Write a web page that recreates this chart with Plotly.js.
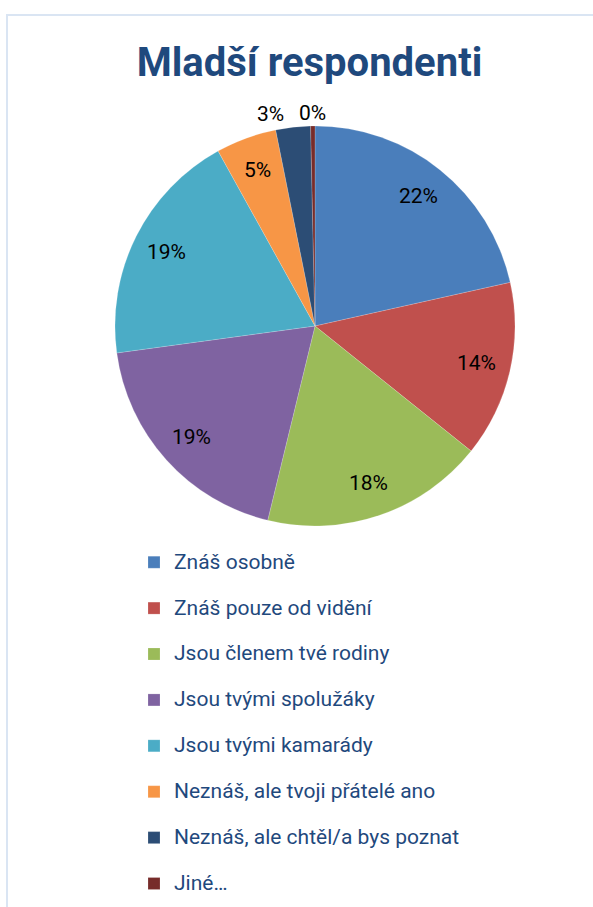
<!DOCTYPE html>
<html>
<head>
<meta charset="utf-8">
<script src="https://cdn.plot.ly/plotly-3.0.1.min.js"></script>
<style>
  html, body { margin: 0; padding: 0; background: #ffffff; overflow: hidden; }
  #frame { position: absolute; left: 0; top: 0; width: 593px; height: 907px; }
  #border { position: absolute; left: 6px; top: 14px; width: 700px; height: 1000px;
            border-top: 2px solid #dae5f3; border-left: 2px solid #dae5f3; pointer-events: none; }
  #chart { position: absolute; left: 0; top: 0; width: 593px; height: 907px; }
</style>
</head>
<body>
<div id="frame">
  <div id="chart"></div>
  <div id="border"></div>
</div>
<script>
const title = "Mladší respondenti";
const categories = [
  "Znáš osobně",
  "Znáš pouze od vidění",
  "Jsou členem tvé rodiny",
  "Jsou tvými spolužáky",
  "Jsou tvými kamarády",
  "Neznáš, ale tvoji přátelé ano",
  "Neznáš, ale chtěl/a bys poznat",
  "Jiné…"
];
const shares = [21.5, 14.25, 18.05, 19.05, 19.1, 4.9, 2.8, 0.35];
const colors = ["#4a7ebb", "#c0504d", "#9bbb59", "#7f63a1", "#4bacc6", "#f79646", "#2c4d75", "#772c2a"];
const labelPlacement = ["inside", "inside", "inside", "inside", "inside", "inside", "outside", "outside"];

const W = 593, H = 907;
const cx = 315, cy = 326, R = 200;
const FONT = "Roboto, 'Open Sans', sans-serif";

// percentage labels placed along each slice's bisector (derived from the data)
const total = shares.reduce((a, b) => a + b, 0);
const annotations = [];
let cum = 0;
shares.forEach((v, i) => {
  const mid = (cum + v / 2) / total;
  cum += v;
  const ang = mid * 2 * Math.PI;
  const outside = labelPlacement[i] === "outside";
  const r = outside ? R + 13 : 0.83 * R;
  const s = Math.sin(ang), c = Math.cos(ang);
  const px = cx + r * s, py = cy - r * c;
  let xanchor = "center", xshift = 0;
  if (outside) {
    if (s < -0.05) { xanchor = "right"; xshift = -6; }
    else if (s > 0.05) { xanchor = "left"; xshift = 6; }
  }
  annotations.push({
    xref: "paper", yref: "paper",
    x: px / W, y: 1 - py / H,
    xanchor: xanchor, yanchor: "middle", xshift: xshift,
    text: Math.round(v / total * 100) + "%",
    showarrow: false,
    font: { family: FONT, size: 21, color: "#000000" }
  });
});

const trace = {
  type: "pie",
  labels: categories.map(c => "<span style=\"font-size:21px\">" + c + "</span><br>\u00a0"),
  values: shares,
  sort: false,
  direction: "clockwise",
  rotation: 0,
  marker: { colors: colors, line: { color: "rgba(255,255,255,0.35)", width: 0.5 } },
  textinfo: "none",
  domain: { x: [(cx - R) / W, (cx + R) / W], y: [1 - (cy + R) / H, 1 - (cy - R) / H] },
  hoverinfo: "percent",
  showlegend: true
};

const layout = {
  width: W, height: H,
  margin: { l: 0, r: 0, t: 0, b: 0, autoexpand: false },
  paper_bgcolor: "#ffffff",
  title: {
    text: "<b>" + title + "</b>",
    x: 309.5 / W, xanchor: "center",
    y: 1 - 62 / H, yanchor: "middle",
    font: { family: FONT, size: 40, color: "#1f497d" }
  },
  annotations: annotations,
  showlegend: true,
  legend: {
    orientation: "v",
    x: 134 / W, xanchor: "left",
    y: 1 - 545 / H, yanchor: "top",
    valign: "top",
    font: { family: FONT, size: 16.5, color: "#1f497d" },
    bgcolor: "rgba(0,0,0,0)",
    borderwidth: 0
  }
};

Plotly.newPlot("chart", [trace], layout, { displayModeBar: false, staticPlot: true });
</script>
</body>
</html>
